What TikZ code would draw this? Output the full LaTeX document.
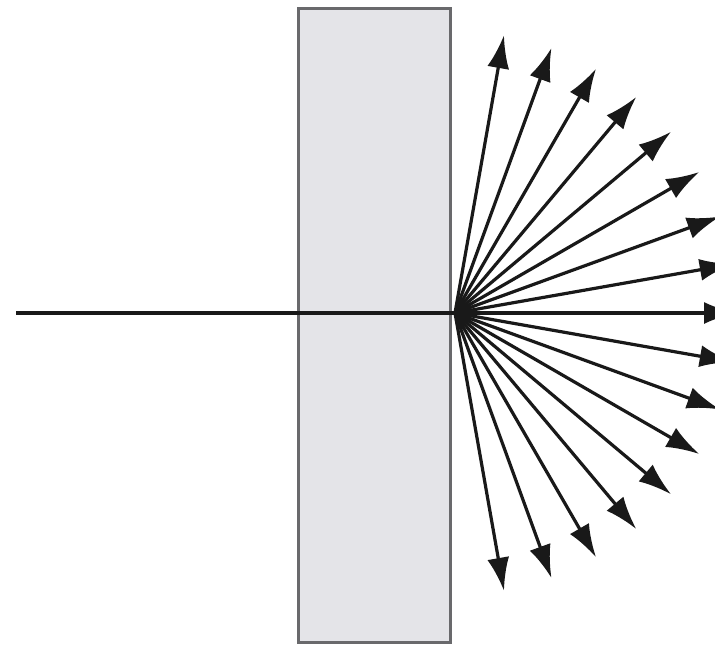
\documentclass[tikz,border=0pt]{standalone}
\usepackage{tikz}
\usetikzlibrary{
  arrows.meta,%
  calc
}
\definecolor{slabfill}{RGB}{228,228,232}
\definecolor{slabedge}{RGB}{105,105,108}
\tikzset{>={Latex[length=33pt, width=22pt]}}
\tikzset{ray/.style={->, line width=3.2pt, black!90}}

\begin{document}
\begin{tikzpicture}[x=1pt, y=-1pt]
          \useasboundingbox (0,0) rectangle (715,646); %
          \clip (0,0) rectangle (715,646); %
          \draw[fill=slabfill, draw=slabedge, line width=3pt] (298,8) rectangle (450,642); %
          \coordinate (src) at (455,313); %
          \coordinate (start) at (16,313); %
          \draw[line width=4pt, black!90] (start) -- (src); %
          \foreach \a in {-80,-70,...,80} {
            \coordinate (tip\a) at ($(src)+(\a:282)$); %
            \draw[ray] (src) -- (tip\a); %
          }
        \end{tikzpicture}
\end{document}
